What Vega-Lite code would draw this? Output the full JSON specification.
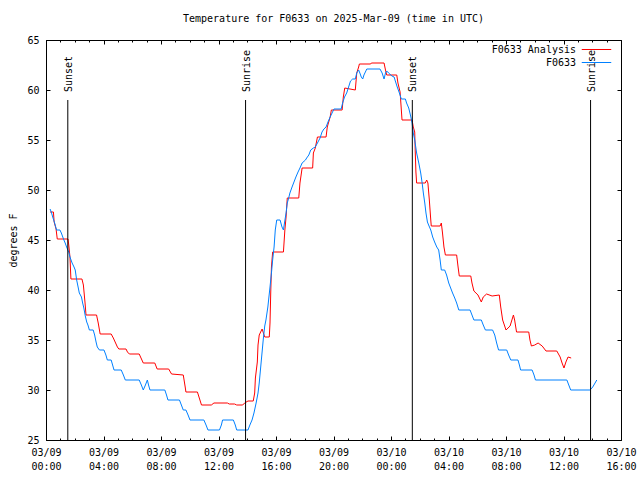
{
  "$schema": "https://vega.github.io/schema/vega-lite/v6.json",
  "width": 575,
  "height": 400,
  "autosize": {"type": "none"},
  "padding": {"left": 46, "top": 40, "right": 19, "bottom": 40},
  "background": "white",
  "title": {"text": "Temperature for F0633 on 2025-Mar-09 (time in UTC)", "anchor": "middle", "frame": "group", "font": "DejaVu Sans Mono", "fontSize": 10, "fontWeight": "normal", "color": "black", "offset": 2, "baseline": "alphabetic"},
  "config": {
    "font": "DejaVu Sans Mono",
    "view": {"stroke": "black", "strokeWidth": 1},
    "axis": {"grid": false, "domain": false, "tickColor": "black", "labelColor": "black", "labelFont": "DejaVu Sans Mono", "labelFontSize": 10, "titleFont": "DejaVu Sans Mono", "titleFontSize": 10, "titleFontWeight": "normal", "titleColor": "black"},
    "legend": {"title": null, "orient": "none", "symbolType": "stroke", "symbolSize": 870, "symbolStrokeWidth": 1, "symbolOpacity": 1, "labelAlign": "right", "labelOffset": -36, "labelFont": "DejaVu Sans Mono", "labelFontSize": 10, "labelColor": "black"}
  },
  "datasets": {
    "analysis": [
      {"time": "2025-03-09T00:17:00Z", "temp": 47.8}, {"time": "2025-03-09T00:31:00Z", "temp": 47.8}, {"time": "2025-03-09T00:34:00Z", "temp": 46.8}, {"time": "2025-03-09T00:42:00Z", "temp": 46.1}, {"time": "2025-03-09T00:47:00Z", "temp": 45.1}, {"time": "2025-03-09T01:32:00Z", "temp": 45.1}, {"time": "2025-03-09T01:35:00Z", "temp": 44.5}, {"time": "2025-03-09T01:40:00Z", "temp": 43.3}, {"time": "2025-03-09T01:44:00Z", "temp": 41.1}, {"time": "2025-03-09T02:30:00Z", "temp": 41.1}, {"time": "2025-03-09T02:36:00Z", "temp": 40.5}, {"time": "2025-03-09T02:43:00Z", "temp": 38.7}, {"time": "2025-03-09T02:47:00Z", "temp": 37.5}, {"time": "2025-03-09T03:31:00Z", "temp": 37.5}, {"time": "2025-03-09T03:38:00Z", "temp": 36.7}, {"time": "2025-03-09T03:46:00Z", "temp": 35.6}, {"time": "2025-03-09T04:32:00Z", "temp": 35.6}, {"time": "2025-03-09T04:41:00Z", "temp": 35.2}, {"time": "2025-03-09T04:58:00Z", "temp": 34.3}, {"time": "2025-03-09T05:04:00Z", "temp": 34.1}, {"time": "2025-03-09T05:34:00Z", "temp": 34.1}, {"time": "2025-03-09T05:40:00Z", "temp": 33.8}, {"time": "2025-03-09T05:48:00Z", "temp": 33.6}, {"time": "2025-03-09T06:29:00Z", "temp": 33.6}, {"time": "2025-03-09T06:46:00Z", "temp": 32.7}, {"time": "2025-03-09T07:34:00Z", "temp": 32.7}, {"time": "2025-03-09T07:44:00Z", "temp": 32.1}, {"time": "2025-03-09T08:32:00Z", "temp": 32.1}, {"time": "2025-03-09T08:44:00Z", "temp": 31.6}, {"time": "2025-03-09T09:33:00Z", "temp": 31.5}, {"time": "2025-03-09T09:41:00Z", "temp": 30.3}, {"time": "2025-03-09T09:44:00Z", "temp": 29.8}, {"time": "2025-03-09T10:32:00Z", "temp": 29.8}, {"time": "2025-03-09T10:49:00Z", "temp": 28.5}, {"time": "2025-03-09T11:30:00Z", "temp": 28.5}, {"time": "2025-03-09T11:41:00Z", "temp": 28.7}, {"time": "2025-03-09T12:37:00Z", "temp": 28.7}, {"time": "2025-03-09T12:45:00Z", "temp": 28.6}, {"time": "2025-03-09T13:07:00Z", "temp": 28.6}, {"time": "2025-03-09T13:16:00Z", "temp": 28.5}, {"time": "2025-03-09T13:41:00Z", "temp": 28.5}, {"time": "2025-03-09T13:49:00Z", "temp": 28.7}, {"time": "2025-03-09T14:03:00Z", "temp": 28.9}, {"time": "2025-03-09T14:25:00Z", "temp": 28.9}, {"time": "2025-03-09T14:31:00Z", "temp": 29.7}, {"time": "2025-03-09T14:34:00Z", "temp": 31.2}, {"time": "2025-03-09T14:42:00Z", "temp": 32.8}, {"time": "2025-03-09T14:45:00Z", "temp": 34.5}, {"time": "2025-03-09T14:50:00Z", "temp": 35.5}, {"time": "2025-03-09T15:02:00Z", "temp": 36.1}, {"time": "2025-03-09T15:13:00Z", "temp": 35.3}, {"time": "2025-03-09T15:32:00Z", "temp": 35.3}, {"time": "2025-03-09T15:35:00Z", "temp": 36.7}, {"time": "2025-03-09T15:38:00Z", "temp": 39.7}, {"time": "2025-03-09T15:41:00Z", "temp": 42.3}, {"time": "2025-03-09T15:46:00Z", "temp": 43.8}, {"time": "2025-03-09T16:31:00Z", "temp": 43.8}, {"time": "2025-03-09T16:37:00Z", "temp": 46.0}, {"time": "2025-03-09T16:42:00Z", "temp": 47.3}, {"time": "2025-03-09T16:47:00Z", "temp": 49.2}, {"time": "2025-03-09T17:35:00Z", "temp": 49.2}, {"time": "2025-03-09T17:40:00Z", "temp": 50.7}, {"time": "2025-03-09T17:49:00Z", "temp": 52.2}, {"time": "2025-03-09T18:33:00Z", "temp": 52.2}, {"time": "2025-03-09T18:36:00Z", "temp": 53.7}, {"time": "2025-03-09T18:44:00Z", "temp": 54.2}, {"time": "2025-03-09T18:53:00Z", "temp": 55.3}, {"time": "2025-03-09T19:29:00Z", "temp": 55.3}, {"time": "2025-03-09T19:34:00Z", "temp": 56.3}, {"time": "2025-03-09T19:46:00Z", "temp": 57.3}, {"time": "2025-03-09T19:51:00Z", "temp": 58.0}, {"time": "2025-03-09T20:36:00Z", "temp": 58.0}, {"time": "2025-03-09T20:41:00Z", "temp": 59.3}, {"time": "2025-03-09T20:47:00Z", "temp": 60.2}, {"time": "2025-03-09T21:31:00Z", "temp": 60.0}, {"time": "2025-03-09T21:37:00Z", "temp": 61.7}, {"time": "2025-03-09T21:45:00Z", "temp": 62.3}, {"time": "2025-03-09T21:48:00Z", "temp": 62.6}, {"time": "2025-03-09T22:35:00Z", "temp": 62.6}, {"time": "2025-03-09T22:38:00Z", "temp": 62.7}, {"time": "2025-03-09T23:31:00Z", "temp": 62.7}, {"time": "2025-03-09T23:37:00Z", "temp": 62.0}, {"time": "2025-03-09T23:42:00Z", "temp": 61.5}, {"time": "2025-03-10T00:24:00Z", "temp": 61.5}, {"time": "2025-03-10T00:29:00Z", "temp": 60.7}, {"time": "2025-03-10T00:38:00Z", "temp": 59.8}, {"time": "2025-03-10T00:46:00Z", "temp": 57.0}, {"time": "2025-03-10T01:28:00Z", "temp": 57.0}, {"time": "2025-03-10T01:33:00Z", "temp": 56.3}, {"time": "2025-03-10T01:39:00Z", "temp": 55.8}, {"time": "2025-03-10T01:41:00Z", "temp": 54.0}, {"time": "2025-03-10T01:44:00Z", "temp": 51.8}, {"time": "2025-03-10T01:47:00Z", "temp": 50.7}, {"time": "2025-03-10T02:23:00Z", "temp": 50.7}, {"time": "2025-03-10T02:29:00Z", "temp": 51.0}, {"time": "2025-03-10T02:34:00Z", "temp": 50.7}, {"time": "2025-03-10T02:40:00Z", "temp": 49.0}, {"time": "2025-03-10T02:46:00Z", "temp": 47.0}, {"time": "2025-03-10T02:48:00Z", "temp": 46.4}, {"time": "2025-03-10T03:25:00Z", "temp": 46.4}, {"time": "2025-03-10T03:30:00Z", "temp": 46.7}, {"time": "2025-03-10T03:35:00Z", "temp": 45.7}, {"time": "2025-03-10T03:41:00Z", "temp": 44.3}, {"time": "2025-03-10T03:47:00Z", "temp": 43.5}, {"time": "2025-03-10T04:34:00Z", "temp": 43.5}, {"time": "2025-03-10T04:40:00Z", "temp": 42.3}, {"time": "2025-03-10T04:45:00Z", "temp": 41.4}, {"time": "2025-03-10T05:33:00Z", "temp": 41.4}, {"time": "2025-03-10T05:38:00Z", "temp": 40.7}, {"time": "2025-03-10T05:46:00Z", "temp": 39.9}, {"time": "2025-03-10T06:03:00Z", "temp": 39.5}, {"time": "2025-03-10T06:17:00Z", "temp": 38.8}, {"time": "2025-03-10T06:25:00Z", "temp": 39.3}, {"time": "2025-03-10T06:39:00Z", "temp": 39.6}, {"time": "2025-03-10T07:02:00Z", "temp": 39.4}, {"time": "2025-03-10T07:32:00Z", "temp": 39.5}, {"time": "2025-03-10T07:38:00Z", "temp": 38.3}, {"time": "2025-03-10T07:46:00Z", "temp": 37.0}, {"time": "2025-03-10T08:00:00Z", "temp": 36.0}, {"time": "2025-03-10T08:17:00Z", "temp": 36.4}, {"time": "2025-03-10T08:31:00Z", "temp": 37.5}, {"time": "2025-03-10T08:36:00Z", "temp": 37.0}, {"time": "2025-03-10T08:44:00Z", "temp": 35.8}, {"time": "2025-03-10T09:35:00Z", "temp": 35.8}, {"time": "2025-03-10T09:40:00Z", "temp": 35.0}, {"time": "2025-03-10T09:46:00Z", "temp": 34.4}, {"time": "2025-03-10T10:00:00Z", "temp": 34.5}, {"time": "2025-03-10T10:14:00Z", "temp": 34.7}, {"time": "2025-03-10T10:31:00Z", "temp": 34.4}, {"time": "2025-03-10T10:47:00Z", "temp": 33.9}, {"time": "2025-03-10T11:32:00Z", "temp": 33.9}, {"time": "2025-03-10T11:46:00Z", "temp": 33.3}, {"time": "2025-03-10T11:54:00Z", "temp": 32.7}, {"time": "2025-03-10T12:02:00Z", "temp": 32.2}, {"time": "2025-03-10T12:10:00Z", "temp": 32.8}, {"time": "2025-03-10T12:19:00Z", "temp": 33.3}, {"time": "2025-03-10T12:32:00Z", "temp": 33.2}
    ],
    "obs": [
      {"time": "2025-03-09T00:17:00Z", "temp": 48.1}, {"time": "2025-03-09T00:22:00Z", "temp": 47.8}, {"time": "2025-03-09T00:28:00Z", "temp": 47.3}, {"time": "2025-03-09T00:36:00Z", "temp": 46.7}, {"time": "2025-03-09T00:44:00Z", "temp": 46.0}, {"time": "2025-03-09T00:58:00Z", "temp": 46.0}, {"time": "2025-03-09T01:04:00Z", "temp": 45.7}, {"time": "2025-03-09T01:13:00Z", "temp": 45.1}, {"time": "2025-03-09T01:20:00Z", "temp": 44.7}, {"time": "2025-03-09T01:26:00Z", "temp": 44.3}, {"time": "2025-03-09T01:35:00Z", "temp": 43.8}, {"time": "2025-03-09T01:40:00Z", "temp": 43.3}, {"time": "2025-03-09T01:49:00Z", "temp": 42.7}, {"time": "2025-03-09T01:57:00Z", "temp": 42.3}, {"time": "2025-03-09T02:02:00Z", "temp": 42.0}, {"time": "2025-03-09T02:08:00Z", "temp": 41.0}, {"time": "2025-03-09T02:14:00Z", "temp": 40.3}, {"time": "2025-03-09T02:19:00Z", "temp": 39.7}, {"time": "2025-03-09T02:28:00Z", "temp": 39.3}, {"time": "2025-03-09T02:33:00Z", "temp": 38.7}, {"time": "2025-03-09T02:38:00Z", "temp": 38.2}, {"time": "2025-03-09T02:44:00Z", "temp": 37.4}, {"time": "2025-03-09T02:50:00Z", "temp": 36.8}, {"time": "2025-03-09T02:55:00Z", "temp": 36.5}, {"time": "2025-03-09T03:01:00Z", "temp": 36.0}, {"time": "2025-03-09T03:17:00Z", "temp": 36.0}, {"time": "2025-03-09T03:23:00Z", "temp": 35.5}, {"time": "2025-03-09T03:29:00Z", "temp": 34.8}, {"time": "2025-03-09T03:34:00Z", "temp": 34.3}, {"time": "2025-03-09T03:43:00Z", "temp": 34.0}, {"time": "2025-03-09T04:02:00Z", "temp": 34.0}, {"time": "2025-03-09T04:10:00Z", "temp": 33.5}, {"time": "2025-03-09T04:16:00Z", "temp": 33.0}, {"time": "2025-03-09T04:32:00Z", "temp": 33.0}, {"time": "2025-03-09T04:38:00Z", "temp": 32.5}, {"time": "2025-03-09T04:44:00Z", "temp": 32.0}, {"time": "2025-03-09T05:14:00Z", "temp": 32.0}, {"time": "2025-03-09T05:23:00Z", "temp": 31.5}, {"time": "2025-03-09T05:31:00Z", "temp": 31.0}, {"time": "2025-03-09T06:29:00Z", "temp": 31.0}, {"time": "2025-03-09T06:38:00Z", "temp": 30.5}, {"time": "2025-03-09T06:46:00Z", "temp": 30.0}, {"time": "2025-03-09T06:55:00Z", "temp": 30.5}, {"time": "2025-03-09T07:03:00Z", "temp": 31.0}, {"time": "2025-03-09T07:08:00Z", "temp": 30.5}, {"time": "2025-03-09T07:14:00Z", "temp": 30.0}, {"time": "2025-03-09T08:16:00Z", "temp": 30.0}, {"time": "2025-03-09T08:23:00Z", "temp": 29.5}, {"time": "2025-03-09T08:29:00Z", "temp": 29.0}, {"time": "2025-03-09T09:17:00Z", "temp": 29.0}, {"time": "2025-03-09T09:25:00Z", "temp": 28.5}, {"time": "2025-03-09T09:33:00Z", "temp": 28.0}, {"time": "2025-03-09T09:44:00Z", "temp": 28.0}, {"time": "2025-03-09T09:53:00Z", "temp": 27.5}, {"time": "2025-03-09T10:01:00Z", "temp": 27.0}, {"time": "2025-03-09T10:59:00Z", "temp": 27.0}, {"time": "2025-03-09T11:08:00Z", "temp": 26.5}, {"time": "2025-03-09T11:16:00Z", "temp": 26.0}, {"time": "2025-03-09T12:04:00Z", "temp": 26.0}, {"time": "2025-03-09T12:12:00Z", "temp": 26.5}, {"time": "2025-03-09T12:17:00Z", "temp": 27.0}, {"time": "2025-03-09T13:02:00Z", "temp": 27.0}, {"time": "2025-03-09T13:10:00Z", "temp": 26.5}, {"time": "2025-03-09T13:16:00Z", "temp": 26.0}, {"time": "2025-03-09T14:03:00Z", "temp": 26.0}, {"time": "2025-03-09T14:11:00Z", "temp": 26.5}, {"time": "2025-03-09T14:20:00Z", "temp": 27.0}, {"time": "2025-03-09T14:28:00Z", "temp": 27.7}, {"time": "2025-03-09T14:37:00Z", "temp": 28.7}, {"time": "2025-03-09T14:45:00Z", "temp": 29.7}, {"time": "2025-03-09T14:50:00Z", "temp": 30.7}, {"time": "2025-03-09T15:07:00Z", "temp": 35.1}, {"time": "2025-03-09T15:13:00Z", "temp": 36.4}, {"time": "2025-03-09T15:18:00Z", "temp": 37.0}, {"time": "2025-03-09T15:26:00Z", "temp": 38.3}, {"time": "2025-03-09T15:35:00Z", "temp": 40.3}, {"time": "2025-03-09T15:41:00Z", "temp": 41.7}, {"time": "2025-03-09T15:46:00Z", "temp": 43.0}, {"time": "2025-03-09T15:52:00Z", "temp": 44.3}, {"time": "2025-03-09T15:57:00Z", "temp": 46.0}, {"time": "2025-03-09T16:03:00Z", "temp": 47.0}, {"time": "2025-03-09T16:17:00Z", "temp": 47.0}, {"time": "2025-03-09T16:25:00Z", "temp": 46.3}, {"time": "2025-03-09T16:31:00Z", "temp": 46.0}, {"time": "2025-03-09T16:36:00Z", "temp": 46.8}, {"time": "2025-03-09T16:42:00Z", "temp": 47.7}, {"time": "2025-03-09T16:47:00Z", "temp": 48.7}, {"time": "2025-03-09T16:53:00Z", "temp": 49.2}, {"time": "2025-03-09T16:58:00Z", "temp": 49.7}, {"time": "2025-03-09T17:07:00Z", "temp": 50.3}, {"time": "2025-03-09T17:15:00Z", "temp": 50.8}, {"time": "2025-03-09T17:23:00Z", "temp": 51.3}, {"time": "2025-03-09T17:32:00Z", "temp": 51.8}, {"time": "2025-03-09T17:40:00Z", "temp": 52.2}, {"time": "2025-03-09T17:49:00Z", "temp": 52.7}, {"time": "2025-03-09T18:03:00Z", "temp": 53.0}, {"time": "2025-03-09T18:08:00Z", "temp": 53.2}, {"time": "2025-03-09T18:17:00Z", "temp": 53.5}, {"time": "2025-03-09T18:25:00Z", "temp": 54.0}, {"time": "2025-03-09T18:36:00Z", "temp": 54.2}, {"time": "2025-03-09T18:44:00Z", "temp": 54.3}, {"time": "2025-03-09T18:53:00Z", "temp": 54.7}, {"time": "2025-03-09T19:04:00Z", "temp": 55.2}, {"time": "2025-03-09T19:12:00Z", "temp": 55.8}, {"time": "2025-03-09T19:20:00Z", "temp": 56.1}, {"time": "2025-03-09T19:29:00Z", "temp": 56.3}, {"time": "2025-03-09T19:37:00Z", "temp": 56.8}, {"time": "2025-03-09T19:46:00Z", "temp": 57.3}, {"time": "2025-03-09T19:54:00Z", "temp": 57.7}, {"time": "2025-03-09T20:02:00Z", "temp": 58.1}, {"time": "2025-03-09T20:32:00Z", "temp": 58.1}, {"time": "2025-03-09T20:38:00Z", "temp": 58.7}, {"time": "2025-03-09T20:46:00Z", "temp": 59.3}, {"time": "2025-03-09T20:55:00Z", "temp": 59.7}, {"time": "2025-03-09T21:03:00Z", "temp": 60.3}, {"time": "2025-03-09T21:11:00Z", "temp": 60.9}, {"time": "2025-03-09T21:20:00Z", "temp": 61.1}, {"time": "2025-03-09T21:31:00Z", "temp": 61.1}, {"time": "2025-03-09T21:37:00Z", "temp": 61.7}, {"time": "2025-03-09T21:45:00Z", "temp": 62.0}, {"time": "2025-03-09T21:50:00Z", "temp": 61.7}, {"time": "2025-03-09T21:56:00Z", "temp": 61.3}, {"time": "2025-03-09T22:02:00Z", "temp": 61.1}, {"time": "2025-03-09T22:07:00Z", "temp": 61.5}, {"time": "2025-03-09T22:19:00Z", "temp": 62.1}, {"time": "2025-03-09T23:14:00Z", "temp": 62.1}, {"time": "2025-03-09T23:23:00Z", "temp": 61.7}, {"time": "2025-03-09T23:31:00Z", "temp": 61.1}, {"time": "2025-03-09T23:37:00Z", "temp": 61.7}, {"time": "2025-03-09T23:42:00Z", "temp": 61.9}, {"time": "2025-03-09T23:50:00Z", "temp": 61.7}, {"time": "2025-03-10T00:04:00Z", "temp": 61.4}, {"time": "2025-03-10T00:13:00Z", "temp": 61.3}, {"time": "2025-03-10T00:18:00Z", "temp": 60.9}, {"time": "2025-03-10T00:26:00Z", "temp": 60.3}, {"time": "2025-03-10T00:35:00Z", "temp": 59.7}, {"time": "2025-03-10T00:43:00Z", "temp": 59.1}, {"time": "2025-03-10T01:00:00Z", "temp": 59.1}, {"time": "2025-03-10T01:05:00Z", "temp": 58.7}, {"time": "2025-03-10T01:14:00Z", "temp": 58.2}, {"time": "2025-03-10T01:22:00Z", "temp": 57.4}, {"time": "2025-03-10T01:28:00Z", "temp": 56.7}, {"time": "2025-03-10T01:33:00Z", "temp": 55.7}, {"time": "2025-03-10T01:39:00Z", "temp": 55.0}, {"time": "2025-03-10T01:47:00Z", "temp": 53.7}, {"time": "2025-03-10T01:56:00Z", "temp": 52.7}, {"time": "2025-03-10T02:04:00Z", "temp": 51.7}, {"time": "2025-03-10T02:10:00Z", "temp": 50.7}, {"time": "2025-03-10T02:15:00Z", "temp": 49.7}, {"time": "2025-03-10T02:21:00Z", "temp": 48.7}, {"time": "2025-03-10T02:26:00Z", "temp": 47.7}, {"time": "2025-03-10T02:32:00Z", "temp": 46.8}, {"time": "2025-03-10T02:37:00Z", "temp": 46.5}, {"time": "2025-03-10T02:46:00Z", "temp": 46.0}, {"time": "2025-03-10T02:54:00Z", "temp": 45.3}, {"time": "2025-03-10T03:02:00Z", "temp": 44.8}, {"time": "2025-03-10T03:11:00Z", "temp": 44.3}, {"time": "2025-03-10T03:19:00Z", "temp": 44.0}, {"time": "2025-03-10T03:25:00Z", "temp": 43.0}, {"time": "2025-03-10T03:30:00Z", "temp": 42.0}, {"time": "2025-03-10T03:44:00Z", "temp": 42.0}, {"time": "2025-03-10T03:52:00Z", "temp": 41.5}, {"time": "2025-03-10T04:01:00Z", "temp": 40.7}, {"time": "2025-03-10T04:09:00Z", "temp": 40.2}, {"time": "2025-03-10T04:17:00Z", "temp": 39.7}, {"time": "2025-03-10T04:26:00Z", "temp": 39.2}, {"time": "2025-03-10T04:34:00Z", "temp": 38.7}, {"time": "2025-03-10T04:43:00Z", "temp": 38.0}, {"time": "2025-03-10T05:30:00Z", "temp": 38.0}, {"time": "2025-03-10T05:38:00Z", "temp": 37.5}, {"time": "2025-03-10T05:46:00Z", "temp": 37.0}, {"time": "2025-03-10T06:17:00Z", "temp": 37.0}, {"time": "2025-03-10T06:25:00Z", "temp": 36.5}, {"time": "2025-03-10T06:34:00Z", "temp": 36.0}, {"time": "2025-03-10T07:04:00Z", "temp": 36.0}, {"time": "2025-03-10T07:13:00Z", "temp": 35.5}, {"time": "2025-03-10T07:21:00Z", "temp": 34.7}, {"time": "2025-03-10T07:29:00Z", "temp": 34.0}, {"time": "2025-03-10T08:03:00Z", "temp": 34.0}, {"time": "2025-03-10T08:11:00Z", "temp": 33.5}, {"time": "2025-03-10T08:20:00Z", "temp": 33.0}, {"time": "2025-03-10T08:50:00Z", "temp": 33.0}, {"time": "2025-03-10T08:56:00Z", "temp": 32.5}, {"time": "2025-03-10T09:01:00Z", "temp": 32.0}, {"time": "2025-03-10T09:49:00Z", "temp": 32.0}, {"time": "2025-03-10T09:57:00Z", "temp": 31.5}, {"time": "2025-03-10T10:03:00Z", "temp": 31.0}, {"time": "2025-03-10T12:14:00Z", "temp": 31.0}, {"time": "2025-03-10T12:22:00Z", "temp": 30.5}, {"time": "2025-03-10T12:30:00Z", "temp": 30.0}, {"time": "2025-03-10T13:51:00Z", "temp": 30.0}, {"time": "2025-03-10T14:02:00Z", "temp": 30.3}, {"time": "2025-03-10T14:19:00Z", "temp": 31.0}
    ],
    "sun": [
      {"time": "2025-03-09T01:31:00Z", "event": "Sunset"},
      {"time": "2025-03-09T13:53:00Z", "event": "Sunrise"},
      {"time": "2025-03-10T01:29:00Z", "event": "Sunset"},
      {"time": "2025-03-10T13:53:00Z", "event": "Sunrise"}
    ]
  },
  "resolve": {"axis": {"x": "independent", "y": "independent"}, "scale": {"color": "independent"}},
  "layer": [
    {
      "data": {"name": "analysis"},
      "mark": {"type": "line", "strokeWidth": 1},
      "encoding": {
        "x": {"field": "time", "type": "temporal",
          "scale": {"type": "utc", "domain": [{"year": 2025, "month": 3, "date": 9, "hours": 0, "utc": true}, {"year": 2025, "month": 3, "date": 10, "hours": 16, "utc": true}], "nice": false},
          "axis": {"orient": "bottom", "title": null, "tickSize": -4, "labelPadding": 11, "labelBaseline": "top", "labelLineHeight": 14, "labelFlush": false, "labelOverlap": false,
            "values": [
              {"year": 2025, "month": 3, "date": 9, "hours": 0, "utc": true},
              {"year": 2025, "month": 3, "date": 9, "hours": 4, "utc": true},
              {"year": 2025, "month": 3, "date": 9, "hours": 8, "utc": true},
              {"year": 2025, "month": 3, "date": 9, "hours": 12, "utc": true},
              {"year": 2025, "month": 3, "date": 9, "hours": 16, "utc": true},
              {"year": 2025, "month": 3, "date": 9, "hours": 20, "utc": true},
              {"year": 2025, "month": 3, "date": 10, "hours": 0, "utc": true},
              {"year": 2025, "month": 3, "date": 10, "hours": 4, "utc": true},
              {"year": 2025, "month": 3, "date": 10, "hours": 8, "utc": true},
              {"year": 2025, "month": 3, "date": 10, "hours": 12, "utc": true},
              {"year": 2025, "month": 3, "date": 10, "hours": 16, "utc": true}
            ],
            "labelExpr": "[utcFormat(datum.value, '%m/%d'), utcFormat(datum.value, '%H:%M')]"}},
        "y": {"field": "temp", "type": "quantitative",
          "scale": {"domain": [25, 65], "nice": false, "zero": false},
          "axis": {"orient": "left", "title": "degrees F", "values": [25, 30, 35, 40, 45, 50, 55, 60, 65], "tickSize": -4, "labelPadding": 11, "titlePadding": 8}},
        "color": {"datum": "F0633 Analysis", "type": "nominal",
          "scale": {"domain": ["F0633 Analysis"], "range": ["#ff0000"]},
          "legend": {"legendX": 535, "legendY": -6, "symbolStrokeColor": "#ff0000"}}
      }
    },
    {
      "data": {"name": "obs"},
      "mark": {"type": "line", "strokeWidth": 1},
      "encoding": {
        "x": {"field": "time", "type": "temporal",
          "axis": {"orient": "top", "title": null, "tickCount": 40, "tickSize": -2, "labels": false}},
        "y": {"field": "temp", "type": "quantitative",
          "axis": {"orient": "right", "title": null, "values": [25, 30, 35, 40, 45, 50, 55, 60, 65], "tickSize": -4, "labels": false}},
        "color": {"datum": "F0633", "type": "nominal",
          "scale": {"domain": ["F0633"], "range": ["#0080ff"]},
          "legend": {"legendX": 535, "legendY": 7, "symbolStrokeColor": "#0080ff"}}
      }
    },
    {
      "data": {"name": "sun"},
      "mark": {"type": "rule", "color": "black", "strokeWidth": 1},
      "encoding": {
        "x": {"field": "time", "type": "temporal",
          "axis": {"orient": "top", "title": null, "tickSize": -4, "labels": false,
            "values": [
              {"year": 2025, "month": 3, "date": 9, "hours": 0, "utc": true},
              {"year": 2025, "month": 3, "date": 9, "hours": 4, "utc": true},
              {"year": 2025, "month": 3, "date": 9, "hours": 8, "utc": true},
              {"year": 2025, "month": 3, "date": 9, "hours": 12, "utc": true},
              {"year": 2025, "month": 3, "date": 9, "hours": 16, "utc": true},
              {"year": 2025, "month": 3, "date": 9, "hours": 20, "utc": true},
              {"year": 2025, "month": 3, "date": 10, "hours": 0, "utc": true},
              {"year": 2025, "month": 3, "date": 10, "hours": 4, "utc": true},
              {"year": 2025, "month": 3, "date": 10, "hours": 8, "utc": true},
              {"year": 2025, "month": 3, "date": 10, "hours": 12, "utc": true},
              {"year": 2025, "month": 3, "date": 10, "hours": 16, "utc": true}
            ]}},
        "y": {"datum": 59, "type": "quantitative", "axis": null},
        "y2": {"datum": 25}
      }
    },
    {
      "data": {"name": "sun"},
      "mark": {"type": "text", "angle": 270, "align": "left", "baseline": "middle", "dx": 8, "dy": 1, "font": "DejaVu Sans Mono", "fontSize": 10, "color": "black"},
      "encoding": {
        "x": {"field": "time", "type": "temporal",
          "axis": {"orient": "bottom", "title": null, "tickCount": 40, "tickSize": -2, "labels": false}},
        "y": {"datum": 59, "type": "quantitative", "axis": null},
        "text": {"field": "event"}
      }
    }
  ]
}
